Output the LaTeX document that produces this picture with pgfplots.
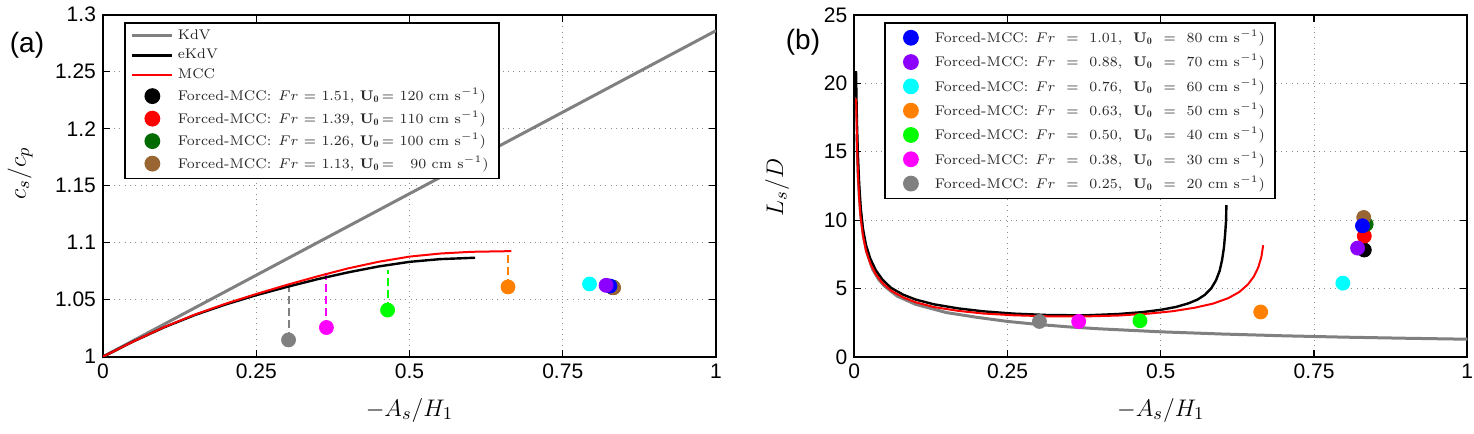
\documentclass[border=0pt]{standalone}
\usepackage{fontspec}
\usepackage{pgfplots}
\pgfplotsset{compat=1.18}
\newfontfamily\helv{Liberation Sans}
\newcommand\lgfont{\fontsize{7}{8.4}\selectfont\addfontfeatures{LetterSpace=14}\color{black!85}}
\newcommand\fmcc[2]{Forced-MCC:\enspace$Fr$ = #1, \textbf{U}$_{\mathbf 0}$\,= #2 cm s$^{-1}$)}
\newcommand\fmccb[2]{Forced-MCC:\enspace$Fr$\ \ =\ \ #1,\ \ \textbf{U}$_{\mathbf 0}$\ \ =\ \ #2 cm s$^{-1}$)}

\definecolor{kdvgray}{rgb}{0.5,0.5,0.5}
\definecolor{dkgreen}{rgb}{0,0.42,0}
\definecolor{brownc}{rgb}{0.6,0.4,0.2}
\definecolor{purplec}{rgb}{0.55,0,1}
\definecolor{orangec}{rgb}{1,0.5,0}
\definecolor{cyanc}{rgb}{0,1,1}
\definecolor{magc}{rgb}{1,0,1}
\definecolor{greenc}{rgb}{0,1,0}
\definecolor{bluec}{rgb}{0,0,1}
\definecolor{redc}{rgb}{1,0,0}

\pgfplotsset{
  panel/.style={
    scale only axis, width=306.5pt, height=171pt,
    xmin=0, xmax=1, xtick={0,0.25,0.5,0.75,1},
    tick align=inside, major tick length=3.5pt,
    grid=major,
    grid style={black!45, line width=0.5pt, dash pattern=on 0.5pt off 2.2pt},
    axis line style={line width=0.9pt},
    tick style={black, line width=0.6pt},
    ticklabel style={font=\helv\fontsize{10.5}{12}\selectfont},
    /pgf/number format/assume math mode=true,
    label style={font=\fontsize{13}{15}\selectfont},
    xlabel={$-A_s/H_1$},
    xlabel style={at={(axis description cs:0.5,-0.156)}, anchor=center},
    legend image code/.code={\draw[mark repeat=2,mark phase=2] plot coordinates {(0pt,0pt) (10pt,0pt) (20pt,0pt)};},
    legend cell align=left,
    legend style={draw=black, line width=0.9pt, font=\lgfont, inner xsep=3pt, inner ysep=1.5pt},
  },
  dot/.style={only marks, color=#1, mark=*, mark size=3.5pt,
    legend image code/.code={\path[draw=none] (0pt,0pt) -- (20pt,0pt);
      \draw[##1] plot[only marks] coordinates {(10pt,0pt)};}},
  stem/.style={#1, dash pattern=on 4pt off 2pt, line width=1pt, forget plot},
}

\begin{document}
\begin{tikzpicture}
\useasboundingbox (0pt,0pt) rectangle (737pt,217pt);

% ---------------- panel (a): phase speed ----------------
\begin{axis}[panel, at={(51.5pt,38.65pt)}, anchor=south west,
  ymin=1, ymax=1.3, ytick={1,1.05,1.1,1.15,1.2,1.25,1.3},
  ylabel={$c_s/c_p$},
  ylabel style={at={(axis description cs:-0.1353,0.536)}, anchor=center},
  legend style={at={(0.0342,0.9795)}, anchor=north west, row sep=-0.6pt},
]
% vertical offsets between forced and free solutions
\addplot[stem=kdvgray] coordinates {(0.3027,1.0147) (0.3027,1.0632)};
\addplot[stem=magc] coordinates {(0.3645,1.0256) (0.3645,1.0735)};
\addplot[stem=greenc] coordinates {(0.4643,1.0409) (0.4643,1.0760)};
\addplot[stem=orangec] coordinates {(0.6607,1.0612) (0.6607,1.0926)};

\addplot[kdvgray, line width=1.5pt] coordinates {(0,1) (1,1.286)};
\addlegendentry{KdV}
\addplot[black, line width=1.2pt] coordinates {
 (0,1.0000) (0.05,1.0135) (0.1,1.0258) (0.15,1.0366) (0.2,1.0458) (0.25,1.0540)
 (0.3,1.0612) (0.35,1.0680) (0.4,1.0740) (0.45,1.0792) (0.5,1.0832) (0.55,1.0856)
 (0.607,1.0868)};
\addlegendentry{eKdV}
\addplot[redc, line width=1pt] coordinates {
 (0,1.0000) (0.05,1.0135) (0.1,1.0260) (0.15,1.0370) (0.2,1.0465) (0.25,1.0550)
 (0.3,1.0630) (0.35,1.0705) (0.4,1.0775) (0.45,1.0833) (0.5,1.0878) (0.55,1.0905)
 (0.6,1.0920) (0.666,1.0926)};
\addlegendentry{MCC}

\addplot[dot=black] coordinates {(0.8310,1.0608)};
\addlegendentry{\fmcc{1.51}{120}}
\addplot[dot=redc] coordinates {(0.8315,1.0610)};
\addlegendentry{\fmcc{1.39}{110}}
\addplot[dot=dkgreen] coordinates {(0.8320,1.0610)};
\addlegendentry{\fmcc{1.26}{100}}
\addplot[dot=brownc] coordinates {(0.8330,1.0605)};
\addlegendentry{\fmcc{1.13}{\ \ 90}}

\addplot[dot=bluec, forget plot] coordinates {(0.8270,1.0620)};
\addplot[dot=purplec, forget plot] coordinates {(0.8207,1.0626)};
\addplot[dot=cyanc, forget plot] coordinates {(0.7937,1.0638)};
\addplot[dot=orangec, forget plot] coordinates {(0.6607,1.0612)};
\addplot[dot=greenc, forget plot] coordinates {(0.4643,1.0409)};
\addplot[dot=magc, forget plot] coordinates {(0.3645,1.0256)};
\addplot[dot=kdvgray, forget plot] coordinates {(0.3027,1.0147)};
\end{axis}

% ---------------- panel (b): wave length ----------------
\begin{axis}[panel, at={(427.15pt,38.5pt)}, anchor=south west,
  ymin=0, ymax=25, ytick={0,5,10,15,20,25},
  ylabel={$L_s/D$},
  ylabel style={at={(axis description cs:-0.126,0.496)}, anchor=center},
  legend style={at={(0.0485,0.9795)}, anchor=north west, row sep=0.3pt},
]
\addplot[kdvgray, line width=1.5pt, forget plot] coordinates {
 (0.004,16.3) (0.006,13.5) (0.008,11.8) (0.01,10.6) (0.015,8.8) (0.02,7.7)
 (0.03,6.4) (0.04,5.65) (0.05,5.15) (0.07,4.45) (0.1,3.85) (0.15,3.25) (0.2,2.9)
 (0.25,2.6) (0.3,2.38) (0.35,2.2) (0.4,2.06) (0.5,1.84) (0.6,1.68) (0.7,1.55)
 (0.8,1.45) (0.9,1.37) (1.0,1.30)};
\addplot[black, line width=1.2pt, forget plot] coordinates {
 (0.0028,20.9) (0.0035,19.0) (0.0045,16.8) (0.006,14.6) (0.008,12.6) (0.0105,10.9)
 (0.014,9.4) (0.019,8.2) (0.026,7.2) (0.035,6.35) (0.046,5.65) (0.06,5.05)
 (0.08,4.55) (0.1,4.2) (0.13,3.85) (0.17,3.55) (0.21,3.34) (0.26,3.17)
 (0.32,3.06) (0.38,3.05) (0.43,3.14) (0.47,3.28) (0.5,3.45) (0.525,3.66)
 (0.545,3.92) (0.56,4.2) (0.572,4.55) (0.582,5.0) (0.59,5.6) (0.596,6.3)
 (0.6,7.1) (0.603,8.0) (0.605,9.0) (0.6065,10.0) (0.607,11.1)};
\addplot[redc, line width=1pt, forget plot] coordinates {
 (0.003,18.9) (0.0038,17.0) (0.0048,15.0) (0.0062,13.2) (0.008,11.6) (0.0103,10.2)
 (0.014,8.9) (0.019,7.8) (0.026,6.85) (0.035,6.05) (0.046,5.4) (0.06,4.85)
 (0.08,4.35) (0.1,4.0) (0.13,3.65) (0.17,3.37) (0.21,3.18) (0.26,3.05)
 (0.32,2.97) (0.38,2.97) (0.43,3.03) (0.48,3.17) (0.52,3.35) (0.555,3.6)
 (0.585,3.9) (0.61,4.3) (0.628,4.75) (0.642,5.3) (0.652,5.9) (0.659,6.55)
 (0.664,7.3) (0.667,8.17)};

\addplot[dot=black, forget plot] coordinates {(0.832,7.82)};
\addplot[dot=redc, forget plot] coordinates {(0.832,8.84)};
\addplot[dot=dkgreen, forget plot] coordinates {(0.835,9.7)};
\addplot[dot=brownc, forget plot] coordinates {(0.831,10.2)};

\addplot[dot=bluec] coordinates {(0.829,9.59)};
\addlegendentry{\fmccb{1.01}{80}}
\addplot[dot=purplec] coordinates {(0.821,7.96)};
\addlegendentry{\fmccb{0.88}{70}}
\addplot[dot=cyanc] coordinates {(0.797,5.40)};
\addlegendentry{\fmccb{0.76}{60}}
\addplot[dot=orangec] coordinates {(0.663,3.29)};
\addlegendentry{\fmccb{0.63}{50}}
\addplot[dot=greenc] coordinates {(0.466,2.65)};
\addlegendentry{\fmccb{0.50}{40}}
\addplot[dot=magc] coordinates {(0.366,2.60)};
\addlegendentry{\fmccb{0.38}{30}}
\addplot[dot=kdvgray] coordinates {(0.302,2.60)};
\addlegendentry{\fmccb{0.25}{20}}
\end{axis}

\node[font=\helv\fontsize{14}{16}\selectfont] at (13.5pt,194.5pt) {(a)};
\node[font=\helv\fontsize{14}{16}\selectfont] at (401.5pt,196pt) {(b)};
\end{tikzpicture}
\end{document}
